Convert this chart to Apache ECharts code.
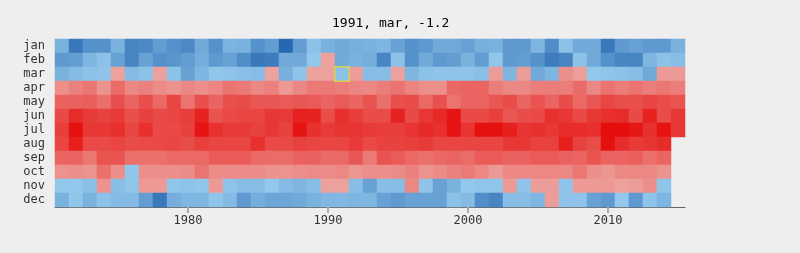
<!DOCTYPE html>
<html>
<head>
<meta charset="utf-8">
<script src="https://cdn.jsdelivr.net/npm/echarts@6/dist/echarts.min.js"></script>
<style>
  html, body { margin: 0; padding: 0; background: #eeeeee; }
  #chart { width: 800px; height: 253px; }
</style>
</head>
<body>
<div id="chart"></div>
<script>
// Years (columns) and months (rows)
const years = [];
for (let y = 1971; y <= 2015; y++) years.push(String(y));
const months = ['jan','feb','mar','apr','may','jun','jul','aug','sep','oct','nov','dec'];

// Monthly mean temperatures (°C), 1971..2015
const jan = [-3,-10,-7,-7,-3,-8.5,-8,-5.5,-7,-8,-4,-7,-2.8,-3,-7,-5.5,-12,-5.5,-1,-3,-4,-3.2,-3,-2.5,-5,-7,-6,-4,-4,-5,-3.2,-3,-6,-6,-2.5,-7.5,-1,-4,-4,-10,-6,-5,-6,-6,-3];
const feb = [-6,-5.5,-2.5,-1,-5,-8.5,-5,-7,-6.5,-5.5,-3.5,-6,-5,-7.5,-10,-9.5,-4,-4,-0.3,0.3,-4,-3,-3.5,-8.5,-1,-7,-4,-6,-5.5,-3,-5.5,-0.5,-6,-5.5,-7,-9.5,-8.5,-1,-4,-7,-8.5,-8.5,-2.5,-1,-1.5];
const mar = [-3,-2,-1,-0.8,0.5,-2,-1,0.5,-1,-5,-2.5,-0.5,-0.8,-1.3,-1.7,0.3,-3.2,-0.8,0.5,0.5,-1.2,1,-1.6,-1.5,0.5,-2.5,-1,-0.8,-0.8,-0.8,-1.4,1,-2.5,1,-4,-2.5,3,0.8,-0.3,-0.6,-1,-1.5,-4,1.5,1.5];
const apr = [3,5,6.5,2.5,8,4,5,3.5,2.5,4,3,4.5,7,6,4,5,1.5,4,6,6,5.5,4.5,4,5.5,7,4.5,3,3,8.5,9,9,5.5,4,4,5.5,5.5,5.5,8,4,7,5.5,7,5.5,6.5,5.5];
const may = [9.5,9.5,10,7.5,12,9,12,8.5,13.5,7,12,9,12,12.5,11,11,10.5,11,10.5,9,10.5,9,11.5,7.5,12,12.5,8.5,12,7,9,9,11,12.5,9,11.5,9,12.5,8.5,11,13.5,12,12,13.5,12.5,11.5];
const jun = [13,17,15,14,15,12,14,13,13.5,14.5,18.5,11.5,13,13.5,13.5,15.5,15,18.5,18.5,12.5,16.5,14.5,12.5,12.5,18.5,13,15.5,17.5,20.5,13,13,14.5,11,12.5,13,16.5,15.5,13,15.5,16.5,17,13,18.5,12.5,15.5];
const jul = [14.5,21,15.5,15.5,16.5,13.5,16.5,13,13,14,20.5,16.5,15,15,14,15.5,14,20.5,16.5,15,16,16,15,14.5,14.5,16,17.5,16.5,20.5,16,21,21,19,16,16.5,15.5,17,17,16.5,21.5,21.5,20,16.5,20.5,15.5];
const aug = [13.5,19,13,13,13.5,12.5,13,13,13.5,12.5,14.5,13.5,13.5,13.5,16.5,13,13,14,13.5,13.5,13.5,15,13,14,14,14.5,15,13.5,13.5,13.5,13.5,13.5,15.5,15.5,14,14,19,14,12.5,21,17,15,16,17,null];
const sep = [9,9,6.5,11.5,11.5,7.5,7.5,7.5,8.5,8.5,8.5,10.5,10.5,10.5,8.5,8,8,9.5,9.5,8,8.5,11,6,11.5,10.5,8.5,7.5,8.5,9,8,10.5,10.5,9.5,9.5,10.5,10.5,9.5,9,11.5,9,9,10,7.5,9,null];
const oct = [2.5,3,2.5,7.5,3,-0.5,3,3,3,3.5,7,3.5,3.5,3.5,3.5,2.5,2.5,3,3.5,3.5,4,2,3,3,3.5,5,2.5,3.5,5,6,4,1.5,4,4,4,4,4,6.5,3,2,4,4,4,2.5,null];
const nov = [-0.3,-0.3,-1.3,2.5,-1.5,-0.5,1.5,1.5,-0.5,-0.9,-0.5,1.5,-0.8,-1.6,-1.6,-0.3,-1.8,-2.5,-1.5,0.5,0.5,-1.5,-5,-1.5,-1.5,4,-0.8,-5,-3,-0.3,-0.6,-0.6,1.5,-0.8,1,1,-0.8,1.5,1.5,1.5,0.5,1,3,-0.6,null];
const dec = [-3,-0.5,-3,-1,-2,-2,-5.5,-10,-3.5,-2.5,-2.5,-0.5,-2,-6,-3.5,-4.5,-4.5,-4,-3,-2.3,-2.3,-2.5,-2.5,-5,-6,-5,-5,-5,-1,-2,-7.5,-8.5,-1.5,-1.5,-2.5,1,-0.8,-0.8,-5,-6,-0.3,-6,-0.8,-2.5,null];

const monthValues = [jan, feb, mar, apr, may, jun, jul, aug, sep, oct, nov, dec];

// highlighted cell (shown in the title)
const selYear = '1991';
const selMonth = 'mar';

// colour scale: light->dark blue below zero, light->deep red above
const vMin = -12, vMax = 21.5;
function lerp(a, b, t) { return Math.round(a + (b - a) * t); }
function hex(c) { return '#' + c.map(v => v.toString(16).padStart(2, '0')).join(''); }
function colorFor(v) {
  if (v < 0) {
    const t = Math.min(1, v / vMin);
    const a = [0x96, 0xca, 0xed], b = [0x27, 0x68, 0xb2];
    return hex(a.map((x, i) => lerp(x, b[i], t)));
  }
  const t = Math.min(1, v / vMax);
  const a = [0xed, 0xa4, 0xa0], b = [0xe6, 0x0e, 0x0c];
  return hex(a.map((x, i) => lerp(x, b[i], t)));
}
const stops = [];
const nSteps = Math.round((vMax - vMin) / 0.1);
for (let i = 0; i <= nSteps; i++) {
  const v = vMin + i * 0.1;
  stops.push(colorFor(Math.abs(v) < 1e-9 ? 0 : (v < 0 && v > -0.05 ? -0.01 : v)));
}

const data = [];
let selItem = null;
monthValues.forEach((arr, m) => {
  arr.forEach((v, yi) => {
    if (v === null || v === undefined) return;
    if (years[yi] === selYear && months[m] === selMonth) {
      selItem = { value: [yi, m, v], itemStyle: { borderColor: '#ddd04a', borderWidth: 1.5 } };
      return;
    }
    data.push([yi, m, v]);
  });
});
if (selItem) data.push(selItem);

const selVal = mar[years.indexOf(selYear)];
const mono = "'DejaVu Sans Mono', monospace";

const chart = echarts.init(document.getElementById('chart'), null, { renderer: 'canvas' });
chart.setOption({
  backgroundColor: '#eeeeee',
  animation: false,
  title: {
    text: selYear + ', ' + selMonth + ', ' + selVal,
    left: 327,
    top: 12,
    textStyle: { fontFamily: mono, fontSize: 13, fontWeight: 'normal', color: '#000' }
  },
  grid: { left: 55, right: 115, top: 39, bottom: 46, containLabel: false },
  xAxis: {
    type: 'category',
    data: years,
    splitArea: { show: false },
    axisLine: { show: true, lineStyle: { color: '#666', width: 1 } },
    axisTick: {
      show: true, alignWithLabel: true, length: 6,
      interval: (i, v) => Number(v) % 10 === 0,
      lineStyle: { color: '#aaa', width: 2 }
    },
    axisLabel: {
      interval: (i, v) => Number(v) % 10 === 0,
      margin: 8,
      fontFamily: mono, fontSize: 12, color: '#333'
    }
  },
  yAxis: {
    type: 'category',
    data: months,
    inverse: true,
    axisLine: { show: false },
    axisTick: { show: false },
    splitLine: { show: false },
    axisLabel: { interval: 0, margin: 10, fontFamily: mono, fontSize: 12, color: '#333' }
  },
  visualMap: {
    show: false,
    type: 'continuous',
    dimension: 2,
    min: vMin,
    max: vMax,
    inRange: { color: stops }
  },
  series: [{
    type: 'heatmap',
    data: data,
    itemStyle: { borderWidth: 0 },
    emphasis: { disabled: true }
  }]
});
</script>
</body>
</html>
